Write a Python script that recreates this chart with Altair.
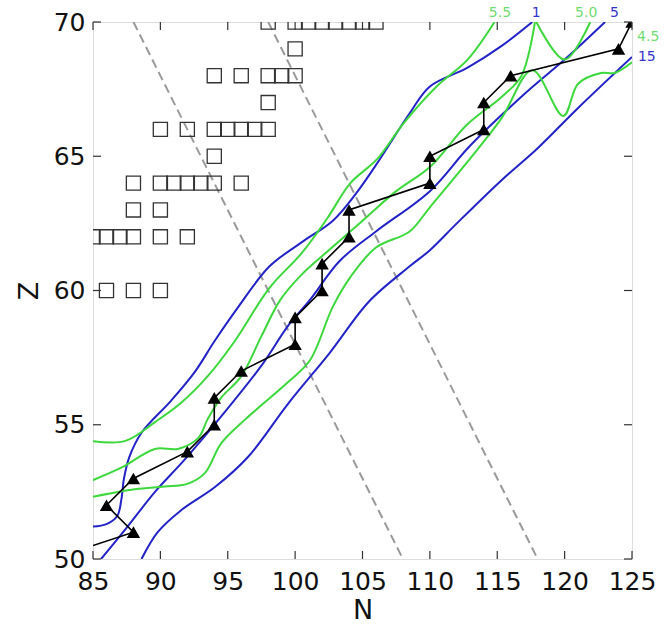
import altair as alt
import pandas as pd

# ---------------- data ----------------
X_TICKS = [85, 90, 95, 100, 105, 110, 115, 120, 125]
Y_TICKS = [50, 55, 60, 65, 70]

# open squares (N, Z)
SQ_N = [98, 100, 101, 102, 103, 104, 105, 106,
        100,
        94, 96, 98, 99, 100,
        98,
        90, 92, 94, 95, 96, 97, 98,
        94,
        88, 90, 91, 92, 93, 94, 96,
        88, 90,
        85, 86, 87, 88, 90, 92,
        86, 88, 90]
SQ_Z = [70, 70, 70, 70, 70, 70, 70, 70,
        69,
        68, 68, 68, 68, 68,
        67,
        66, 66, 66, 66, 66, 66, 66,
        65,
        64, 64, 64, 64, 64, 64, 64,
        63, 63,
        62, 62, 62, 62, 62, 62,
        60, 60, 60]

# black path with triangles
PATH_N = [125, 124, 116, 114, 114, 110, 110, 104, 104, 102, 102, 100, 100, 96, 94, 94, 92, 88, 86, 88, 85]
PATH_Z = [70, 69, 68, 67, 66, 65, 64, 63, 62, 61, 60, 59, 58, 57, 56, 55, 54, 53, 52, 51, 50.5]
TRI_N = [125, 124, 116, 114, 114, 110, 110, 104, 104, 102, 102, 100, 100, 96, 94, 94, 92, 88, 86, 88]
TRI_Z = [70, 69, 68, 67, 66, 65, 64, 63, 62, 61, 60, 59, 58, 57, 56, 55, 54, 53, 52, 51]

# blue contours
B1_N = [84.8, 86, 86.8, 87.1, 87.3, 87.7, 88.6, 90.8, 92.6, 94, 95.8, 98.1, 100.5, 102.8, 104.5, 106.3, 108.5, 110, 112.8, 115.3, 117.6]
B1_Z = [51.2, 51.3, 51.6, 52.2, 53, 53.8, 54.7, 55.9, 57, 58.1, 59.4, 60.9, 61.8, 62.6, 63.6, 64.9, 66.6, 67.6, 68.3, 69.1, 70]
B2_N = [85.6, 87.4, 89.6, 91.8, 94.5, 97.5, 99.5, 101.1, 103.3, 106, 110, 113, 117.2, 120, 123]
B2_Z = [50, 51.1, 52.5, 53.7, 55.3, 57.2, 58.7, 59.65, 61.1, 62.2, 63.7, 65.4, 67.4, 68.6, 70]
B3_N = [88.6, 89.8, 91.5, 94.1, 96.5, 99.5, 102.6, 105.5, 108.5, 110, 112, 115.3, 118, 121, 125]
B3_Z = [50, 51, 51.8, 52.7, 53.8, 55.8, 57.7, 59.6, 60.9, 61.5, 62.5, 64.1, 65.3, 66.8, 68.7]

# green contours
GA_N = [84.8, 87.4, 89.6, 91.5, 93.5, 95.5, 98.1, 100.5, 102.4, 104.1, 106.1, 108, 110.5, 112.8, 114.8]
GA_Z = [54.4, 54.4, 55.1, 55.8, 56.8, 58.1, 60.1, 61.4, 62.7, 64, 64.9, 66.2, 67.6, 68.6, 70]
GB_N = [84.8, 87.1, 89.6, 91.3, 92.8, 93.5, 94.5, 96, 97.5, 98.9, 100.5, 102.5, 105, 107.5, 110, 112.8, 115.3, 116.8, 117.8]
GB_Z = [52.9, 53.4, 54.1, 54.1, 54.5, 55.2, 56, 56.8, 58.3, 59.65, 60.6, 61.5, 62.6, 63.7, 64.6, 66.2, 67.2, 68, 70]
GV_N = [117.9, 120, 121.9]
GV_Z = [70, 68.6, 70]
GC_N = [84.8, 88.1, 90.3, 92, 93.3, 94.5, 96.3, 99.5, 101.1, 102.8, 104.1, 106, 108.5, 110, 112.8, 115.3, 117.6, 119.9, 121, 122.7, 123.7, 125]
GC_Z = [52.3, 52.6, 52.7, 52.8, 53.2, 54.3, 55.2, 56.6, 57.4, 59.4, 60.5, 61.6, 62.2, 63.1, 64.8, 66.4, 68.2, 66.5, 67.7, 68.1, 68.1, 68.5]

# dashed isobars
DASH1_N = [88, 108]
DASH1_Z = [70, 50]
DASH2_N = [98, 118]
DASH2_Z = [70, 50]

# contour labels
GREEN_LAB = ["5.5", "5.0", "4.5"]
GREEN_LAB_N = [115.2, 121.6, 126.2]
GREEN_LAB_Z = [70.33, 70.33, 69.44]
BLUE_LAB = ["1", "5", "15"]
BLUE_LAB_N = [117.9, 123.7, 126.1]
BLUE_LAB_Z = [70.33, 70.33, 68.7]

# ---------------- tables ----------------
def series_df(name, ns, zs):
    return pd.DataFrame({"series": name, "i": list(range(len(ns))), "N": ns, "Z": zs})

contours = pd.concat([
    series_df("B1", B1_N, B1_Z),
    series_df("B2", B2_N, B2_Z),
    series_df("B3", B3_N, B3_Z),
    series_df("GA", GA_N, GA_Z),
    series_df("GB", GB_N, GB_Z),
    series_df("GV", GV_N, GV_Z),
    series_df("GC", GC_N, GC_Z),
])
SERIES = ["B1", "B2", "B3", "GA", "GB", "GV", "GC"]
BLUE = "#2323c8"
GREEN = "#3cd83c"
COLORS = [BLUE, BLUE, BLUE, GREEN, GREEN, GREEN, GREEN]

dashes = pd.concat([series_df("d1", DASH1_N, DASH1_Z), series_df("d2", DASH2_N, DASH2_Z)])
path = series_df("path", PATH_N, PATH_Z)
tris = pd.DataFrame({"N": TRI_N, "Z": TRI_Z})
squares = pd.DataFrame({"N": SQ_N, "Z": SQ_Z})
glab = pd.DataFrame({"N": GREEN_LAB_N, "Z": GREEN_LAB_Z, "t": GREEN_LAB})
blab = pd.DataFrame({"N": BLUE_LAB_N, "Z": BLUE_LAB_Z, "t": BLUE_LAB})
xt = pd.DataFrame({"N": X_TICKS})
yt = pd.DataFrame({"Z": Y_TICKS})

W, H = 539, 537
FONT = "DejaVu Sans"

xs = alt.Scale(domain=[85, 125], nice=False, zero=False)
ys = alt.Scale(domain=[50, 70], nice=False, zero=False)
xax = alt.Axis(values=X_TICKS, title="N", grid=False, ticks=False, tickSize=0, domain=False,
               labelFontSize=25, labelFont=FONT, labelColor="#111", labelPadding=10,
               titleFontSize=27, titleFont=FONT, titleFontWeight="normal", titleColor="#111",
               titlePadding=3, labelFlush=False)
yax = alt.Axis(values=Y_TICKS, title="Z", grid=False, ticks=False, tickSize=0, domain=False,
               labelFontSize=25, labelFont=FONT, labelColor="#111", labelPadding=8,
               titleFontSize=27, titleFont=FONT, titleFontWeight="normal", titleColor="#111",
               titlePadding=10, labelFlush=False)

X = alt.X("N:Q", scale=xs, axis=xax)
Y = alt.Y("Z:Q", scale=ys, axis=yax)

dash_layer = alt.Chart(dashes).mark_line(clip=True, color="#9a9a9a", strokeWidth=2, strokeDash=[9, 5]).encode(
    x=X, y=Y, detail="series:N", order="i:Q")

sq_layer = alt.Chart(squares).mark_point(clip=True, shape="square", filled=False, color="#333333",
                                         size=200, strokeWidth=1.3, opacity=1).encode(x=X, y=Y)

cont_layer = alt.Chart(contours).mark_line(clip=True, strokeWidth=2, interpolate="catmull-rom").encode(
    x=X, y=Y,
    color=alt.Color("series:N", scale=alt.Scale(domain=SERIES, range=COLORS), legend=None),
    detail="series:N", order="i:Q")

path_layer = alt.Chart(path).mark_line(clip=True, color="black", strokeWidth=1.6).encode(
    x=X, y=Y, order="i:Q")

tri_layer = alt.Chart(tris).mark_point(clip=True, shape="triangle-up", filled=True, color="black",
                                       size=180, opacity=1).encode(x=X, y=Y)

tick_b = alt.Chart(xt).mark_rule(color="#333", strokeWidth=1.2).encode(x=X, y=alt.value(H), y2=alt.value(H - 8))
tick_t = alt.Chart(xt).mark_rule(color="#333", strokeWidth=1.2).encode(x=X, y=alt.value(0), y2=alt.value(8))
tick_l = alt.Chart(yt).mark_rule(color="#333", strokeWidth=1.2).encode(y=Y, x=alt.value(0), x2=alt.value(8))
tick_r = alt.Chart(yt).mark_rule(color="#333", strokeWidth=1.2).encode(y=Y, x=alt.value(W), x2=alt.value(W - 8))

glab_layer = alt.Chart(glab).mark_text(color="#6fdc6f", fontSize=14, font=FONT, align="center",
                                       baseline="middle").encode(x=X, y=Y, text="t:N")
blab_layer = alt.Chart(blab).mark_text(color="#3434cc", fontSize=14, font=FONT, align="center",
                                       baseline="middle").encode(x=X, y=Y, text="t:N")

chart = alt.layer(
    dash_layer, sq_layer, cont_layer, path_layer, tri_layer,
    tick_b, tick_t, tick_l, tick_r, glab_layer, blab_layer,
).properties(
    width=W, height=H,
    autosize=alt.AutoSizeParams(type="none"),
    padding={"left": 93, "top": 22, "right": 36, "bottom": 70},
).configure_view(stroke="#2a2a2a", strokeWidth=2).configure(background="white")

chart.save("out.html", embed_options={"renderer": "svg", "actions": False})
